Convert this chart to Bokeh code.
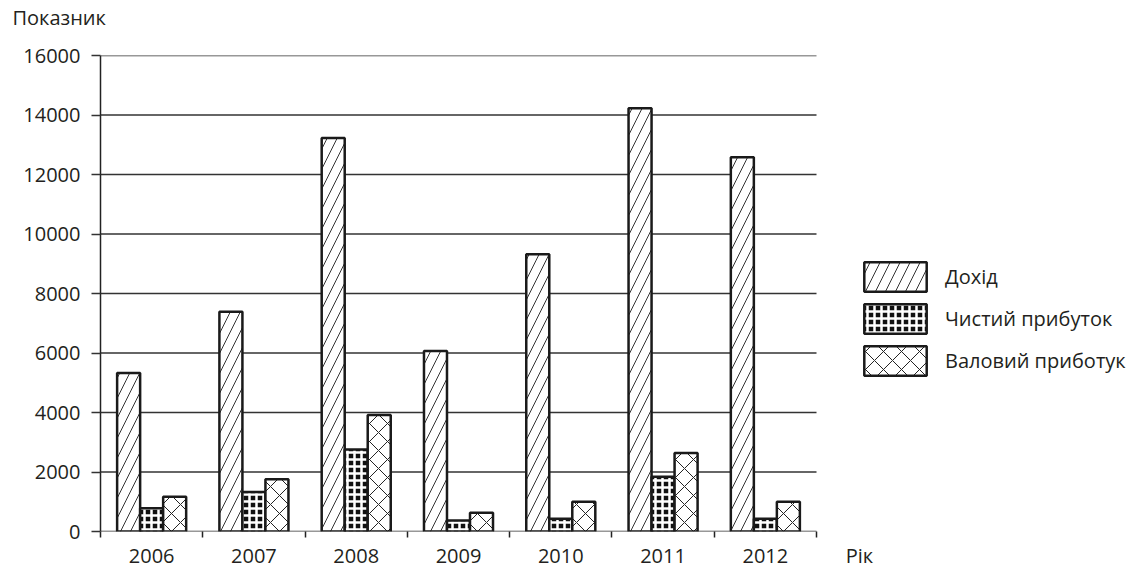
from bokeh.plotting import figure
from bokeh.models import (ColumnDataSource, Range1d, FixedTicker, Legend, LegendItem, Title)
from bokeh.transform import dodge
from bokeh.embed import file_html
from bokeh.resources import INLINE

years = ["2006", "2007", "2008", "2009", "2010", "2011", "2012"]
dohid = [5330, 7390, 13230, 6070, 9320, 14230, 12580]
chystyi = [780, 1330, 2760, 370, 430, 1840, 430]
valovyi = [1170, 1760, 3920, 630, 1000, 2640, 1000]
series_names = ["Дохід", "Чистий прибуток", "Валовий приботук"]
y_ticks = [0, 2000, 4000, 6000, 8000, 10000, 12000, 14000, 16000]
x_title = "Рік"
y_title = "Показник"

FONT = "Open Sans"
TXT = "#231f20"

n = len(years)
centers = [i + 0.5 for i in range(n)]
src = ColumnDataSource(dict(xc=centers, d=dohid, c=chystyi, v=valovyi))
grid_src = ColumnDataSource(dict(y=y_ticks, x0=[0] * len(y_ticks), x1=[n] * len(y_ticks)))

# frame spans from the y-axis to the right edge; the data region covers 0..n
x_end = n * 1046 / 716
p = figure(width=1146, height=571, output_backend="svg", toolbar_location=None,
           x_range=Range1d(0, x_end), y_range=Range1d(0, 16000),
           min_border_left=100, min_border_right=0, min_border_top=55, min_border_bottom=36)
p.outline_line_color = None
p.background_fill_color = "white"
p.border_fill_color = "white"
p.xgrid.visible = False
p.ygrid.visible = False

# horizontal grid lines limited to the category area
p.segment(x0="x0", x1="x1", y0="y", y1="y", source=grid_src,
          line_color="#333333", line_width=1.5)

ya = p.yaxis[0]
ya.ticker = FixedTicker(ticks=y_ticks)
ya.axis_line_color = "#222222"
ya.axis_line_width = 1.5
ya.major_tick_out = 9
ya.major_tick_in = 0
ya.major_tick_line_color = "#333333"
ya.major_tick_line_width = 1.5
ya.minor_tick_line_color = None
ya.major_label_standoff = 11
ya.major_label_text_font = FONT
ya.major_label_text_font_size = "20px"
ya.major_label_text_color = TXT

x_title_pos = n + 0.42
xa = p.xaxis[0]
xa.ticker = FixedTicker(ticks=centers + [x_title_pos], minor_ticks=list(range(n + 1)))
overrides = {c: y for c, y in zip(centers, years)}
overrides[x_title_pos] = x_title
xa.major_label_overrides = overrides
xa.axis_line_color = None
xa.major_tick_line_color = None
xa.major_tick_out = 0
xa.major_tick_in = 0
xa.minor_tick_out = 6
xa.minor_tick_in = 0
xa.minor_tick_line_color = "#222222"
xa.minor_tick_line_width = 1.5
xa.major_label_standoff = 4
xa.major_label_text_line_height = 1.0
xa.major_label_text_font = FONT
xa.major_label_text_font_size = "20px"
xa.major_label_text_color = TXT

W = 0.225
r1 = p.vbar(x=dodge("xc", -W, range=p.x_range), top="d", width=W, bottom=0, source=src,
            fill_color="white", line_color="#1a1a1a", line_width=2.5,
            hatch_pattern="right_diagonal_line", hatch_color="#333333", hatch_weight=1, hatch_scale=20)
r2 = p.vbar(x=dodge("xc", 0, range=p.x_range), top="c", width=W, bottom=0, source=src,
            fill_color="#111111", line_color="#1a1a1a", line_width=2.5,
            hatch_pattern="cross", hatch_color="white", hatch_weight=2.5, hatch_scale=7)
r3 = p.vbar(x=dodge("xc", W, range=p.x_range), top="v", width=W, bottom=0, source=src,
            fill_color="white", line_color="#1a1a1a", line_width=2.5,
            hatch_pattern="diagonal_cross", hatch_color="#222222", hatch_weight=1, hatch_scale=18)

legend = Legend(items=[LegendItem(label=series_names[0], renderers=[r1]),
                       LegendItem(label=series_names[1], renderers=[r2]),
                       LegendItem(label=series_names[2], renderers=[r3])],
                location=(756, 152), orientation="vertical",
                glyph_width=78, glyph_height=37, label_standoff=11, spacing=5,
                padding=0, margin=0, border_line_color=None, background_fill_alpha=0,
                label_text_font=FONT, label_text_font_size="20px", label_text_color=TXT,
                label_height=37)
p.add_layout(legend, "center")

# spacer keeps the axis title higher above the plot area
p.add_layout(Title(text=" ", text_font_size="1px", standoff=22), "above")
p.add_layout(Title(text=y_title, align="left", offset=-88, standoff=0,
                   text_font=FONT, text_font_size="20px", text_font_style="normal",
                   text_color=TXT), "above")

open("out.html", "w").write(file_html(p, INLINE))
